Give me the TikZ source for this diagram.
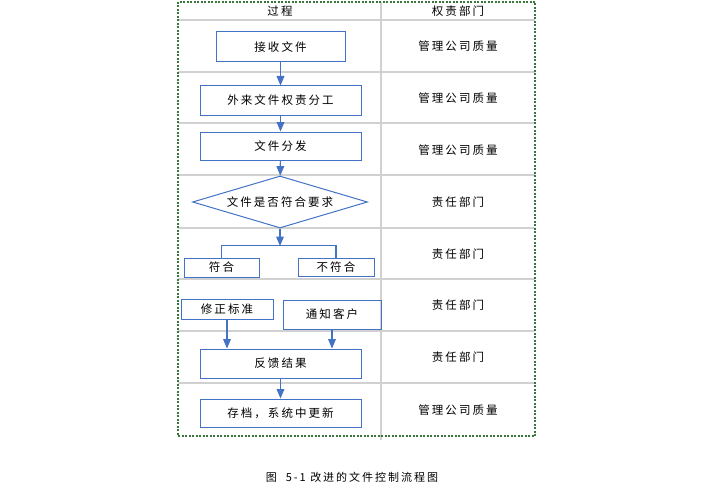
\documentclass[tikz,border=0pt]{standalone}
\usepackage{fontspec}
\setmainfont{Noto Sans CJK SC}[LetterSpace=18]
\usetikzlibrary{shapes.geometric, arrows, positioning}

\definecolor{boxblue}{RGB}{68,114,196}
\definecolor{frameGreen}{RGB}{56,118,60}

\begin{document}
\begin{tikzpicture}[
    x=1pt, y=-1pt,
    font=\fontsize{11.5}{13}\selectfont,
    procbox/.style={rectangle, draw=boxblue, line width=1pt, inner sep=0pt, align=center},
    decision/.style={diamond, draw=boxblue, line width=1pt, aspect=3.4, inner sep=1pt, minimum width=175pt, minimum height=52pt},
    rowline/.style={draw=black!18, line width=1.2pt},
    arrow/.style={->, >=triangle 45, draw=boxblue, line width=1.2pt}
]
\useasboundingbox (0,0) rectangle (703,492);

% Table lines
\foreach \yy in {20,72,123,175,228,279,331,383}
    \draw[rowline] (178,\yy) -- (535,\yy);
\draw[rowline] (381,2) -- (381,440);
\draw[frameGreen, line width=1.2pt, dash pattern=on 2pt off 1.5pt] (178,2) rectangle (535,436);

% Header
\node (hproc) at (280,11) {过程};
\node (hdept) at (458,11) {权责部门};

% Process
\node[procbox, minimum width=129pt, minimum height=30pt] (receive) at (280.5,47) {接收文件};
\node[procbox, minimum width=161pt, minimum height=29pt] (assign) at (280.5,100.5) {外来文件权责分工};
\node[procbox, minimum width=161pt, minimum height=28pt] (distrib) at (280.5,146) {文件分发};
\node[decision] (check) at (280,202) {文件是否符合要求};
\coordinate (split) at (280,246);
\node[procbox, minimum width=75pt, minimum height=19pt] (ok) at (221.5,267.5) {符合};
\node[procbox, minimum width=76pt, minimum height=18pt] (notok) at (336,267) {不符合};
\node[procbox, minimum width=92pt, minimum height=20pt] (revise) at (227,309) {修正标准};
\node[procbox, minimum width=98pt, minimum height=29pt] (notify) at (332,314.5) {通知客户};
\node[procbox, minimum width=161pt, minimum height=29pt] (feedback) at (280.5,363.5) {反馈结果};
\node[procbox, minimum width=161pt, minimum height=28pt] (archive) at (280.5,413) {存档，系统中更新};

% Departments
\foreach \yy/\txt in {46/管理公司质量, 98/管理公司质量, 150/管理公司质量, 202/责任部门,
    254/责任部门, 305/责任部门, 357/责任部门, 410/管理公司质量}
    \node at (458,\yy) {\txt};

% Arrows
\draw[arrow] (receive) -- (assign);
\draw[arrow] (assign) -- (distrib);
\draw[arrow] (distrib) -- (check);
\draw[arrow] (check) -- (split);
\draw[boxblue, line width=1.2pt] (ok.north) -- ++(0,-12) -| (notok.north);
\draw[arrow] (revise.south) -- (revise.south |- feedback.north);
\draw[arrow] (notify.south) -- (notify.south |- feedback.north);
\draw[arrow] (feedback) -- (archive);

% Caption
\node[font=\fontsize{11}{13}\selectfont] (caption) at (352,477) {图\ \ 5-1 改进的文件控制流程图};
\end{tikzpicture}
\end{document}
